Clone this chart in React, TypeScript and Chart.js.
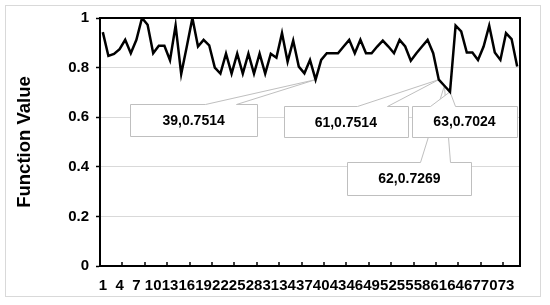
import React, { useEffect, useRef } from 'react';
import { Chart, registerables } from 'chart.js';

Chart.register(...registerables);

const categories = [
  '1', '2', '3', '4', '5', '6', '7', '8', '9', '10',
  '11', '12', '13', '14', '15', '16', '17', '18', '19', '20',
  '21', '22', '23', '24', '25', '26', '27', '28', '29', '30',
  '31', '32', '33', '34', '35', '36', '37', '38', '39', '40',
  '41', '42', '43', '44', '45', '46', '47', '48', '49', '50',
  '51', '52', '53', '54', '55', '56', '57', '58', '59', '60',
  '61', '62', '63', '64', '65', '66', '67', '68', '69', '70',
  '71', '72', '73', '74', '75',
];

const functionValues = [
  0.943, 0.847, 0.855, 0.874, 0.912, 0.858, 0.912, 1.0, 0.973, 0.858,
  0.888, 0.888, 0.83, 0.97, 0.774, 0.885, 1.0, 0.885, 0.912, 0.89,
  0.8, 0.776, 0.856, 0.776, 0.856, 0.776, 0.856, 0.776, 0.856, 0.776,
  0.856, 0.84, 0.939, 0.824, 0.909, 0.804, 0.777, 0.831, 0.7514, 0.831,
  0.858, 0.858, 0.858, 0.885, 0.912, 0.858, 0.912, 0.858, 0.858, 0.885,
  0.909, 0.885, 0.858, 0.912, 0.885, 0.828, 0.858, 0.885, 0.912, 0.858,
  0.7514, 0.7269, 0.7024, 0.969, 0.946, 0.861, 0.861, 0.831, 0.885, 0.969,
  0.861, 0.831, 0.939, 0.915, 0.804,
];

// categories that carry a data callout (drawn in this order)
const calloutCategories = ['39', '61', '62', '63'];

// callout box placement relative to the data point (layout only)
const calloutPlacement: Record<string, { dx: number; dy: number; w: number; h: number; b1: number; b2: number }> = {
  '39': { dx: -122, dy: 40.5, w: 127, h: 32, b1: 11.5, b2: 42.5 },
  '61': { dx: -93, dy: 42, w: 124, h: 31, b1: 11, b2: 41 },
  '62': { dx: -35, dy: 92.5, w: 124, h: 33, b1: 10.5, b2: 40.5 },
  '63': { dx: 14.5, dy: 29.7, w: 105, h: 31, b1: -35, b2: -9.5 },
};

const FONT = "'Liberation Sans', Arial, sans-serif";
const TEXT = '#000000';

const chartDecor = {
  id: 'chartDecor',
  beforeDraw(chart: any) {
    const ctx = chart.ctx;
    ctx.save();
    ctx.fillStyle = '#ffffff';
    ctx.fillRect(0, 0, chart.width, chart.height);
    ctx.strokeStyle = '#d9d9d9';
    ctx.lineWidth = 1;
    ctx.strokeRect(5.5, 5.5, 535, 291);
    ctx.restore();
  },
  beforeDatasetsDraw(chart: any) {
    const ctx = chart.ctx;
    const xs = chart.scales.x;
    const ys = chart.scales.y;
    ctx.save();
    calloutCategories.forEach((cat) => {
      const i = categories.indexOf(cat);
      const v = functionValues[i];
      const px = xs.getPixelForValue(i);
      const py = ys.getPixelForValue(v);
      const p = calloutPlacement[cat];
      const cx = px + p.dx;
      const cy = py + p.dy;
      const L = Math.round(cx - p.w / 2) + 0.5;
      const R = Math.round(cx + p.w / 2) + 0.5;
      const T = Math.round(cy - p.h / 2) + 0.5;
      const B = Math.round(cy + p.h / 2) + 0.5;
      ctx.beginPath();
      ctx.moveTo(L, T);
      ctx.lineTo(Math.round(cx + p.b1) + 0.5, T);
      ctx.lineTo(px, py);
      ctx.lineTo(Math.round(cx + p.b2) + 0.5, T);
      ctx.lineTo(R, T);
      ctx.lineTo(R, B);
      ctx.lineTo(L, B);
      ctx.closePath();
      ctx.fillStyle = '#ffffff';
      ctx.fill();
      ctx.strokeStyle = '#bfbfbf';
      ctx.lineWidth = 1;
      ctx.stroke();
      ctx.fillStyle = TEXT;
      ctx.font = `bold 14px ${FONT}`;
      ctx.textAlign = 'center';
      ctx.textBaseline = 'middle';
      ctx.fillText(`${cat},${v}`, cx, cy + 1);
    });
    ctx.restore();
  },
  afterDraw(chart: any) {
    const ctx = chart.ctx;
    const { left, right, top, bottom } = chart.chartArea;
    const xs = chart.scales.x;
    ctx.save();
    ctx.strokeStyle = '#000000';
    ctx.lineWidth = 2;
    ctx.beginPath();
    ctx.moveTo(left, top);
    ctx.lineTo(right, top);
    ctx.lineTo(right, bottom);
    ctx.stroke();
    // inward category tick marks every 4 categories
    ctx.lineWidth = 1.5;
    for (let k = 4; k < categories.length; k += 4) {
      const x = Math.round((xs.getPixelForValue(k - 1) + xs.getPixelForValue(k)) / 2);
      ctx.beginPath();
      ctx.moveTo(x, bottom);
      ctx.lineTo(x, bottom - 4);
      ctx.stroke();
    }
    ctx.restore();
  },
};

export default function App() {
  const canvasRef = useRef<HTMLCanvasElement | null>(null);

  useEffect(() => {
    const canvas = canvasRef.current;
    if (!canvas) return;
    const chart = new Chart(canvas, {
      type: 'line',
      data: {
        labels: categories,
        datasets: [
          {
            data: functionValues,
            borderColor: '#000000',
            borderWidth: 2.5,
            pointRadius: 0,
            pointHoverRadius: 0,
            tension: 0,
            fill: false,
          },
        ],
      },
      options: {
        animation: false,
        responsive: false,
        devicePixelRatio: 1,
        layout: { padding: { left: 0, top: 18, right: 30, bottom: 0 } },
        plugins: {
          legend: { display: false },
          tooltip: { enabled: false },
        },
        scales: {
          x: {
            type: 'category',
            offset: true,
            grid: { display: false, drawTicks: false },
            border: { display: true, color: '#000000', width: 2 },
            ticks: {
              autoSkip: false,
              maxRotation: 0,
              minRotation: 0,
              padding: 11,
              color: TEXT,
              font: { family: FONT, size: 15, weight: 'bold' },
              callback: (_v: any, idx: number) => (idx % 3 === 0 ? categories[idx] : ''),
            },
            afterFit: (scale: any) => {
              scale.height = 39;
            },
          },
          y: {
            min: 0,
            max: 1,
            ticks: {
              stepSize: 0.2,
              padding: 7,
              color: TEXT,
              font: { family: FONT, size: 15, weight: 'bold' },
              callback: (v: any) => String(Number(Number(v).toFixed(1))),
            },
            grid: {
              color: '#d9d9d9',
              lineWidth: 1,
              drawTicks: true,
              tickLength: 4,
              tickColor: '#000000',
              tickWidth: 1.5,
            },
            border: { display: true, color: '#000000', width: 2 },
            title: {
              display: true,
              text: 'Function Value',
              color: TEXT,
              font: { family: FONT, size: 18.5, weight: 'bold' },
              padding: { top: 14, bottom: 0 },
            },
            afterFit: (scale: any) => {
              scale.width = 100;
            },
          },
        },
      },
      plugins: [chartDecor],
    });
    return () => chart.destroy();
  }, []);

  return (
    <div style={{ position: 'fixed', left: 0, top: 0, width: 550, height: 305, background: '#fff' }}>
      <canvas ref={canvasRef} width={550} height={305} style={{ display: 'block' }} />
    </div>
  );
}
